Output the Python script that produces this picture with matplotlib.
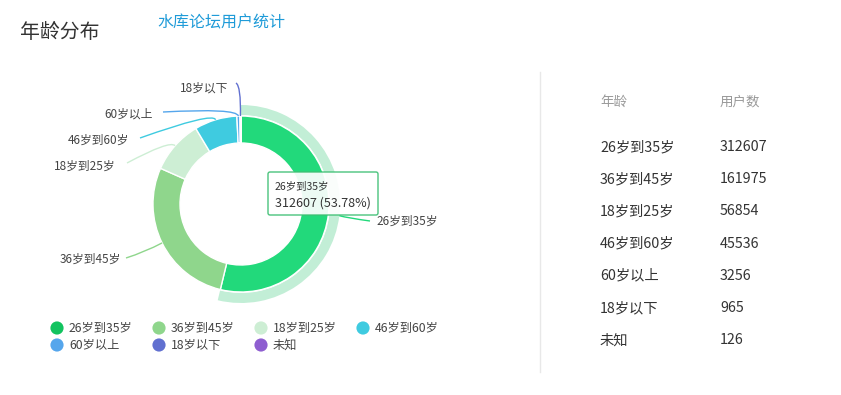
import numpy as np
import matplotlib
matplotlib.use('Agg')
import matplotlib.pyplot as plt
from matplotlib.patches import Wedge, FancyBboxPatch, PathPatch
from matplotlib.path import Path

plt.rcParams['font.family'] = ['Noto Sans CJK SC', 'DejaVu Sans']

# ── Data ──
ages = ['26岁到35岁', '36岁到45岁', '18岁到25岁', '46岁到60岁', '60岁以上', '18岁以下', '未知']
users = [312607, 161975, 56854, 45536, 3256, 965, 126]
colors = ['#12c35f', '#8fd68c', '#cdeed4', '#3fcbe0', '#55a6ec', '#6170d0', '#8e5ed0']
highlight_color = '#22d97b'

W, H = 841, 395
fig = plt.figure(figsize=(W / 100, H / 100), dpi=100)
ax = fig.add_axes([0, 0, 1, 1])


def Y(py):
    # pixel row -> data y
    return H - py


# ── Donut ──
cx, cy = 241, Y(204)
r_out, r_in = 88, 61
wedges, _ = ax.pie(users, colors=colors, startangle=90, counterclock=False,
                   radius=r_out, center=(cx, cy),
                   wedgeprops=dict(width=r_out - r_in, edgecolor='white', linewidth=1))
wedges[0].set_facecolor(highlight_color)
# hover ring on the first slice
w0 = wedges[0]
ax.add_patch(Wedge((cx, cy), r_out + 11, w0.theta1, w0.theta2, width=10,
                   facecolor='#c2eed6', edgecolor='none', zorder=0))

# ── Label lines (elbow / label positions in px) ──
label_layout = {
    '26岁到35岁': ((348, 218), (370, 221), (376, 221), 'left'),
    '36岁到45岁': ((145, 252), (126, 258), (121, 259), 'right'),
    '18岁到25岁': ((170, 140), (127, 163), (116, 166), 'right'),
    '46岁到60岁': ((213, 112), (140, 138), (129, 140), 'right'),
    '60岁以上': ((237, 108), (163, 112), (153, 114), 'right'),
    '18岁以下': ((241, 86), (236, 83), (228, 88), 'right'),
}
total = sum(users)
for name, val, col, w in zip(ages, users, colors, wedges):
    mid = np.deg2rad((w.theta1 + w.theta2) / 2)
    if name not in label_layout:
        continue
    (ex, ey), (tx, ty), (lx, ly), ha = label_layout[name]
    rr = r_out + 11 if name == ages[0] else r_out
    sx, sy = cx + rr * np.cos(mid), cy + rr * np.sin(mid)
    path = Path([(sx, sy), (ex, Y(ey)), (tx, Y(ty))], [Path.MOVETO, Path.CURVE3, Path.CURVE3])
    lc = highlight_color if name == ages[0] else col
    ax.add_patch(PathPatch(path, fill=False, edgecolor=lc, linewidth=1, zorder=1))
    ax.text(lx, Y(ly), name, ha=ha, va='center', fontsize=8.5, color='#444444')

# ── Tooltip ──
ax.add_patch(FancyBboxPatch((268, Y(215)), 110, 43, boxstyle='round,pad=0,rounding_size=2',
                            facecolor='white', edgecolor='#3cbf72', linewidth=1,
                            alpha=0.92, zorder=5))
ax.text(275, Y(187), ages[0], fontsize=7.5, color='#333333', va='center', zorder=6)
ax.text(275, Y(203), f'{users[0]} ({users[0] / total * 100:.2f}%)', fontsize=9,
        color='#333333', va='center', zorder=6)

# ── Legend ──
for i, (name, col) in enumerate(zip(ages, colors)):
    lx = 57 + (i % 4) * 102
    ly = 328 + (i // 4) * 17
    ax.scatter([lx], [Y(ly)], s=90, color=col, edgecolors='none', zorder=3)
    ax.text(lx + 12, Y(ly), name, fontsize=8.8, color='#444444', va='center')

# ── Titles ──
ax.text(20, Y(32), '年龄分布', fontsize=14.3, color='#333333', va='center')
ax.text(157, Y(23), '水库论坛用户统计', fontsize=11.5, color='#1f9bd8', va='center')

# ── Divider ──
ax.plot([540, 540], [Y(72), Y(372)], color='#e8e8e8', linewidth=1)

# ── Table ──
ax.text(600, Y(102), '年龄', fontsize=9.7, color='#999999', va='center')
ax.text(720, Y(102), '用户数', fontsize=9.7, color='#999999', va='center')
for i, (name, val) in enumerate(zip(ages, users)):
    ty = 147 + i * 32.2
    ax.text(600, Y(ty), name, fontsize=10.3, color='#333333', va='center')
    ax.text(720, Y(ty), str(val), fontsize=10.3, color='#333333', va='center')

ax.set_xlim(0, W)
ax.set_ylim(0, H)
ax.set_aspect('auto')
ax.axis('off')

fig.savefig('out.png', dpi=100, facecolor='white')
